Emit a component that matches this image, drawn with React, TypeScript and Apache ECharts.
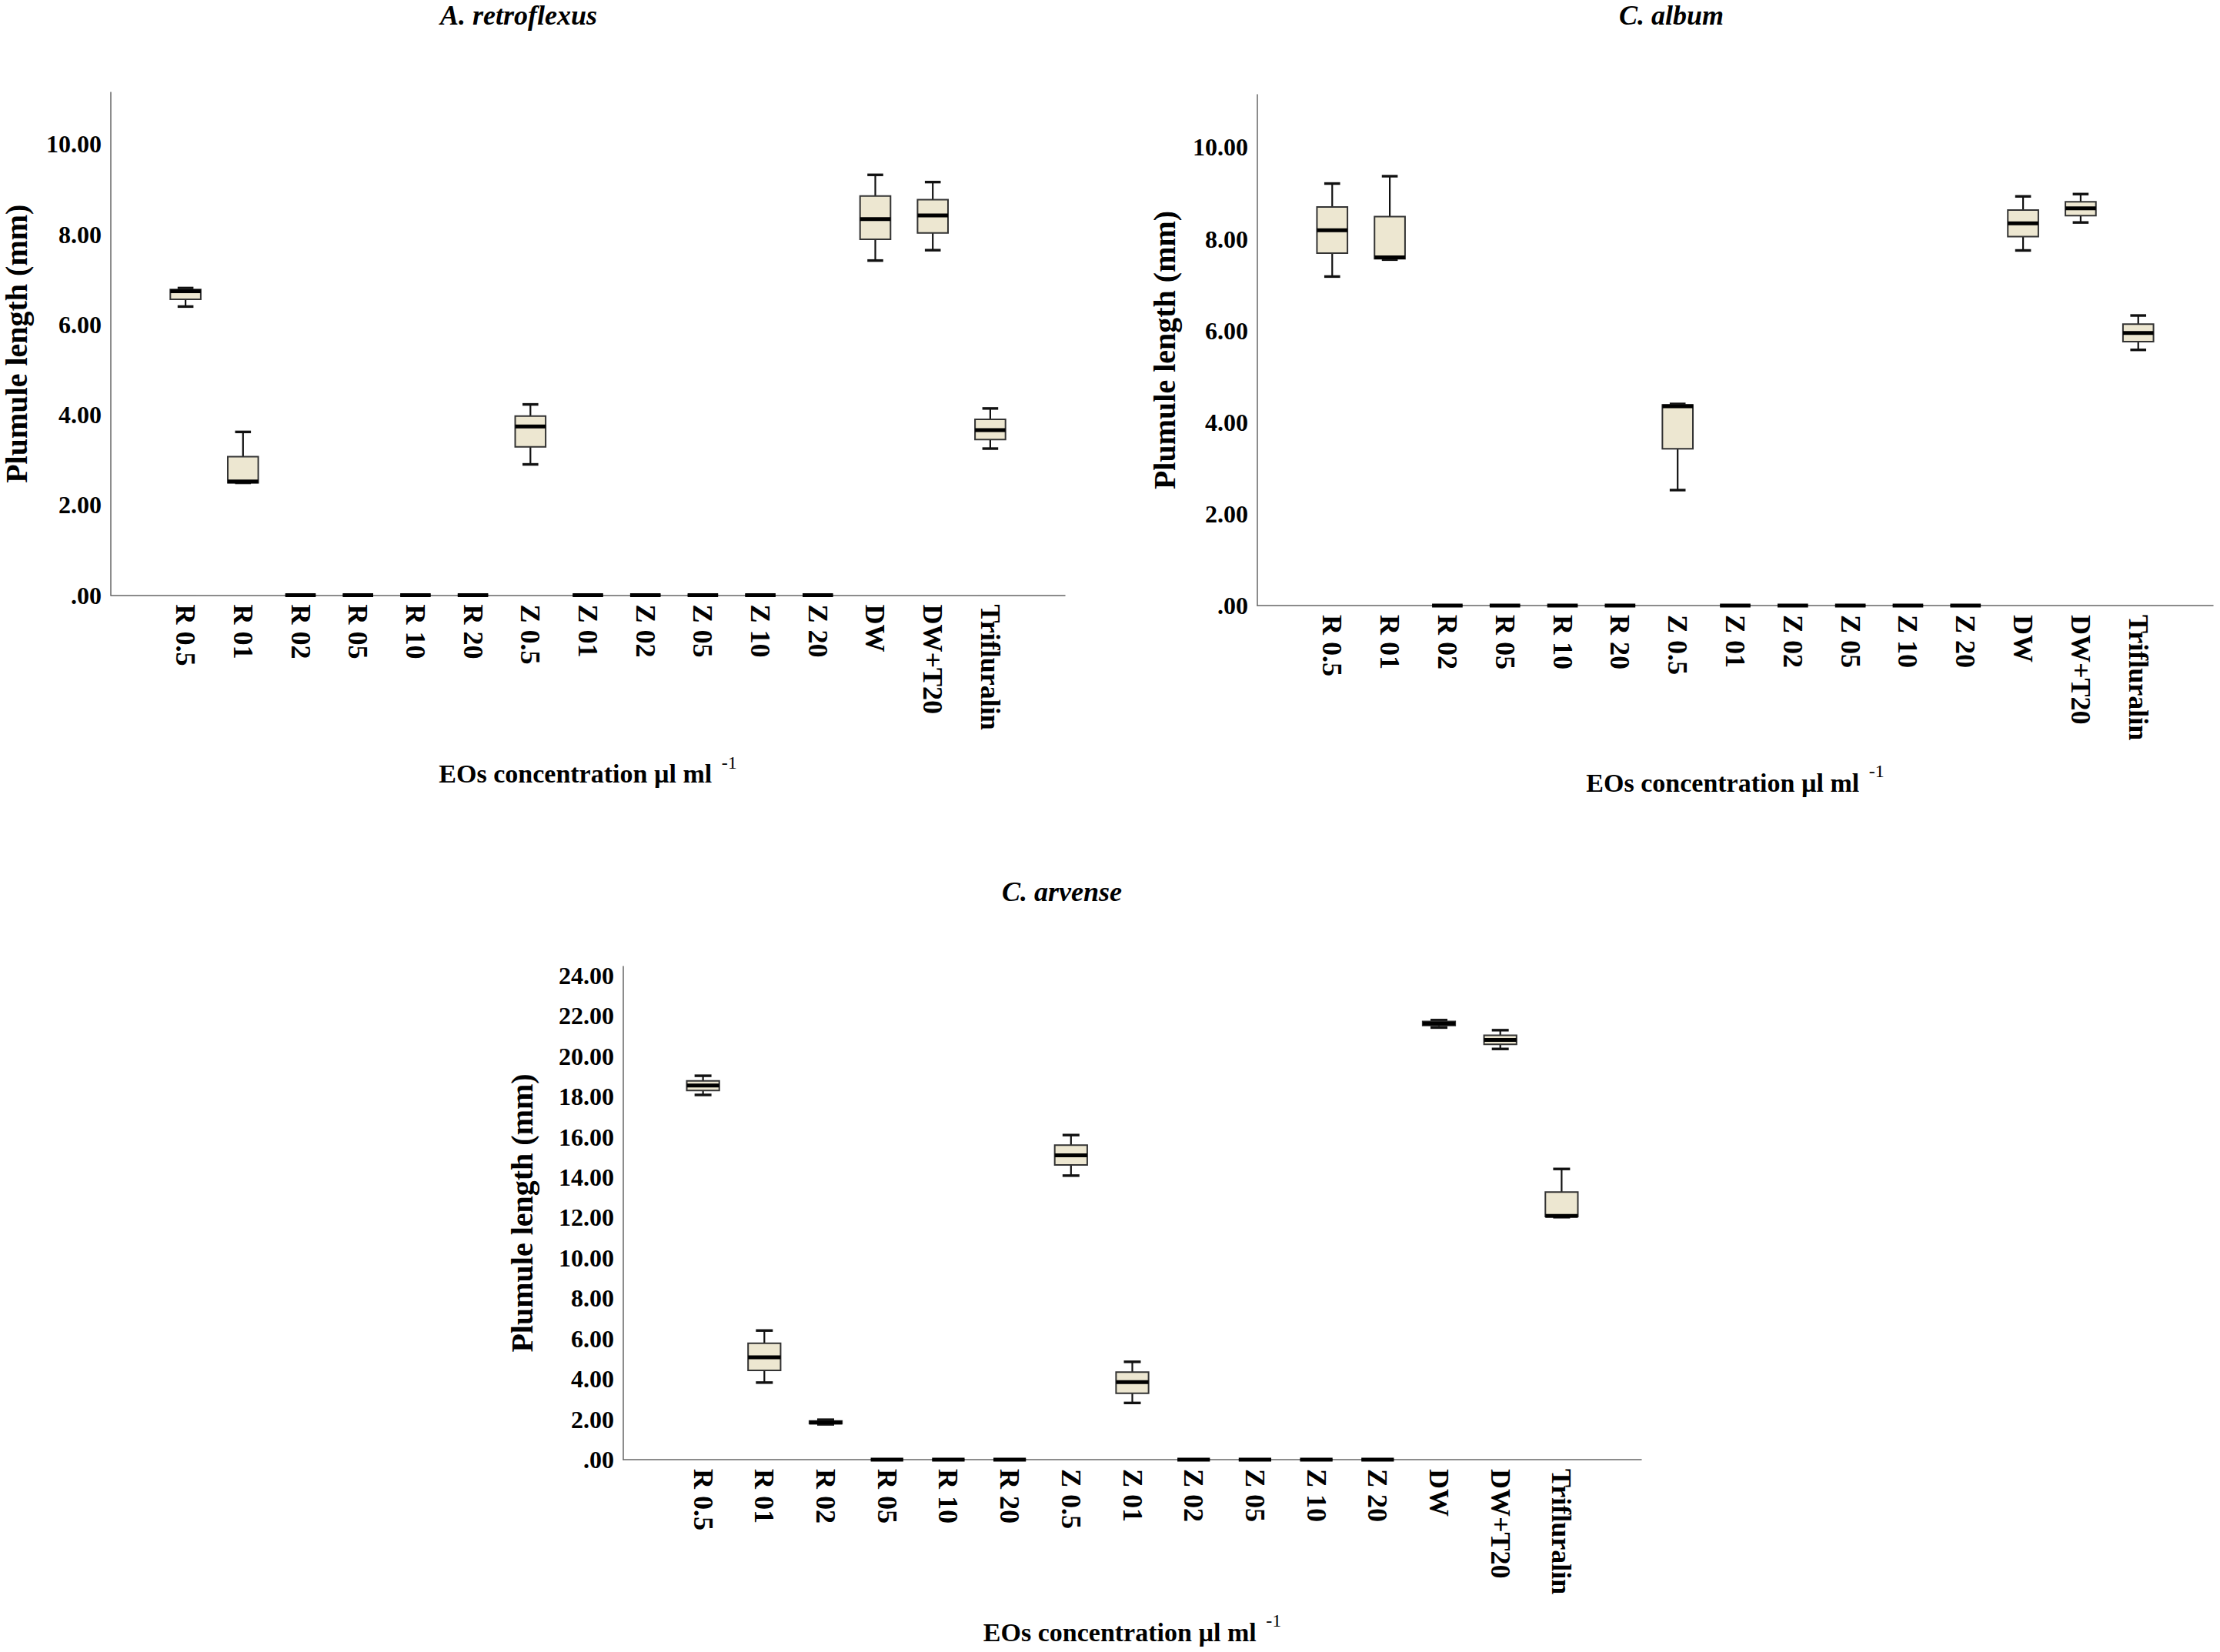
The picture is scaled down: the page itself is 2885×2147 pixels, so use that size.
import React, { useEffect, useRef } from 'react';
import * as echarts from 'echarts';

// Treatments on the x axis (same order in every panel)
const categories = [
  'R 0.5', 'R 01', 'R 02', 'R 05', 'R 10', 'R 20',
  'Z 0.5', 'Z 01', 'Z 02', 'Z 05', 'Z 10', 'Z 20',
  'DW', 'DW+T20', 'Trifluralin',
];

// Box statistics per treatment: [min, Q1, median, Q3, max] in mm
const retroflexusStats = [
  [6.40, 6.56, 6.74, 6.78, 6.81],
  [2.49, 2.49, 2.52, 3.07, 3.62],
  [0, 0, 0, 0, 0],
  [0, 0, 0, 0, 0],
  [0, 0, 0, 0, 0],
  [0, 0, 0, 0, 0],
  [2.90, 3.29, 3.74, 3.97, 4.23],
  [0, 0, 0, 0, 0],
  [0, 0, 0, 0, 0],
  [0, 0, 0, 0, 0],
  [0, 0, 0, 0, 0],
  [0, 0, 0, 0, 0],
  [7.42, 7.89, 8.34, 8.85, 9.32],
  [7.65, 8.03, 8.42, 8.77, 9.16],
  [3.25, 3.45, 3.66, 3.90, 4.14],
];

const albumStats = [
  [7.18, 7.69, 8.19, 8.70, 9.21],
  [7.55, 7.57, 7.60, 8.49, 9.37],
  [0, 0, 0, 0, 0],
  [0, 0, 0, 0, 0],
  [0, 0, 0, 0, 0],
  [0, 0, 0, 0, 0],
  [2.52, 3.42, 4.35, 4.38, 4.40],
  [0, 0, 0, 0, 0],
  [0, 0, 0, 0, 0],
  [0, 0, 0, 0, 0],
  [0, 0, 0, 0, 0],
  [0, 0, 0, 0, 0],
  [7.75, 8.05, 8.34, 8.63, 8.93],
  [8.36, 8.51, 8.67, 8.81, 8.98],
  [5.58, 5.76, 5.95, 6.14, 6.33],
];

const arvenseStats = [
  [18.08, 18.30, 18.55, 18.78, 19.03],
  [3.82, 4.42, 5.07, 5.77, 6.40],
  [1.75, 1.78, 1.84, 1.92, 1.98],
  [0, 0, 0, 0, 0],
  [0, 0, 0, 0, 0],
  [0, 0, 0, 0, 0],
  [14.08, 14.61, 15.09, 15.59, 16.09],
  [2.81, 3.29, 3.84, 4.34, 4.85],
  [0, 0, 0, 0, 0],
  [0, 0, 0, 0, 0],
  [0, 0, 0, 0, 0],
  [0, 0, 0, 0, 0],
  [21.42, 21.52, 21.62, 21.72, 21.79],
  [20.36, 20.59, 20.81, 21.04, 21.29],
  [12.02, 12.05, 12.08, 13.26, 14.41],
];

const speciesTitles = ['A. retroflexus', 'C. album', 'C. arvense'];
const yTicksShort = [0, 2, 4, 6, 8, 10];
const yTicksTall = [0, 2, 4, 6, 8, 10, 12, 14, 16, 18, 20, 22, 24];
const yAxisTitle = 'Plumule length (mm)';
const xAxisTitle = 'EOs concentration µl ml ';
const xAxisTitleSup = '-1';

const SERIF = '"Liberation Serif", "Times New Roman", Times, serif';

const panels = [
  { title: speciesTitles[0], stats: retroflexusStats, ticks: yTicksShort, yMax: 11.15,
    grid: { left: 142, top: 120, width: 1242, height: 653.5 }, titlePos: [674, 20], yNameGap: 123, xNameGap: 232 },
  { title: speciesTitles[1], stats: albumStats, ticks: yTicksShort, yMax: 11.15,
    grid: { left: 1634, top: 123, width: 1242, height: 664 }, titlePos: [2172, 20], yNameGap: 121, xNameGap: 230 },
  { title: speciesTitles[2], stats: arvenseStats, ticks: yTicksTall, yMax: 24.45,
    grid: { left: 810, top: 1256, width: 1323, height: 641 }, titlePos: [1380, 1159], yNameGap: 132, xNameGap: 224 },
];

const formatTick = (v: number) => (v === 0 ? '.00' : v.toFixed(2));

// Draws one box-and-whisker glyph: half-width whisker caps, thick median
const renderBox = (_params: any, api: any) => {
  const i = api.value(0);
  const lo = api.coord([i, api.value(1)]);
  const q1 = api.coord([i, api.value(2)]);
  const md = api.coord([i, api.value(3)]);
  const q3 = api.coord([i, api.value(4)]);
  const hi = api.coord([i, api.value(5)]);
  const step = api.size([1, 0])[0];
  const half = step * 0.265;
  const cap = half * 0.52;
  const cx = md[0];
  const whisker = { stroke: '#111', lineWidth: 2.2 };
  const capStyle = { stroke: '#111', lineWidth: 3.4 };
  return {
    type: 'group',
    children: [
      { type: 'line', shape: { x1: cx, y1: q1[1], x2: cx, y2: lo[1] }, style: whisker },
      { type: 'line', shape: { x1: cx, y1: q3[1], x2: cx, y2: hi[1] }, style: whisker },
      { type: 'line', shape: { x1: cx - cap, y1: lo[1], x2: cx + cap, y2: lo[1] }, style: capStyle },
      { type: 'line', shape: { x1: cx - cap, y1: hi[1], x2: cx + cap, y2: hi[1] }, style: capStyle },
      {
        type: 'rect',
        shape: { x: cx - half, y: q3[1], width: half * 2, height: q1[1] - q3[1] },
        style: { fill: '#EDE7D1', stroke: '#333', lineWidth: 2 },
      },
      { type: 'line', shape: { x1: cx - half, y1: md[1], x2: cx + half, y2: md[1] }, style: { stroke: '#000', lineWidth: 5 } },
    ],
  };
};

const axisLineStyle = { color: '#666', width: 1.5 };

function buildOption() {
  return {
    animation: false,
    backgroundColor: '#ffffff',
    grid: panels.map((p) => ({ ...p.grid, containLabel: false })),
    xAxis: panels.map((p, k) => ({
      gridIndex: k,
      type: 'value',
      min: -1.3,
      max: 15.3,
      axisLine: { show: true, onZero: false, lineStyle: axisLineStyle },
      axisTick: { show: false },
      splitLine: { show: false },
      axisLabel: {
        customValues: categories.map((_, i) => i),
        formatter: (v: number) => categories[Math.round(v)] ?? '',
        rotate: -90,
        margin: 12,
        color: '#000',
        fontFamily: SERIF,
        fontWeight: 'bold',
        fontSize: 36,
      },
      name: `{t|${xAxisTitle}}{s|${xAxisTitleSup}}`,
      nameLocation: 'middle',
      nameGap: p.xNameGap,
      nameTextStyle: {
        verticalAlign: 'middle',
        rich: {
          t: { fontFamily: SERIF, fontWeight: 'bold', fontSize: 34, color: '#000', lineHeight: 54 },
          s: { fontFamily: SERIF, fontSize: 24, color: '#000', verticalAlign: 'top', lineHeight: 24, padding: [0, 0, 0, 4] },
        },
      },
    })),
    yAxis: panels.map((p, k) => ({
      gridIndex: k,
      type: 'value',
      min: 0,
      max: p.yMax,
      axisLine: { show: true, onZero: false, lineStyle: axisLineStyle },
      axisTick: { show: false },
      splitLine: { show: false },
      axisLabel: {
        customValues: p.ticks,
        formatter: formatTick,
        margin: 12,
        color: '#000',
        fontFamily: SERIF,
        fontWeight: 'bold',
        fontSize: 32,
      },
      name: yAxisTitle,
      nameLocation: 'middle',
      nameRotate: 90,
      nameGap: p.yNameGap,
      nameTextStyle: {
        fontFamily: SERIF,
        fontWeight: 'bold',
        fontSize: 40,
        color: '#000',
        verticalAlign: 'middle',
      },
    })),
    series: panels.map((p, k) => ({
      type: 'custom',
      name: p.title,
      xAxisIndex: k,
      yAxisIndex: k,
      renderItem: renderBox,
      encode: { x: 0, y: [1, 2, 3, 4, 5] },
      data: p.stats.map((s, i) => [i, ...s]),
      clip: false,
    })),
    graphic: panels.map((p) => ({
      type: 'text',
      x: p.titlePos[0],
      y: p.titlePos[1],
      style: {
        text: p.title,
        fontFamily: SERIF,
        fontWeight: 'bold',
        fontStyle: 'italic',
        fontSize: 36,
        fill: '#000',
        align: 'center',
        verticalAlign: 'middle',
      },
    })),
  };
}

export default function App() {
  const ref = useRef<HTMLDivElement>(null);
  useEffect(() => {
    if (!ref.current) return;
    const chart = echarts.init(ref.current, undefined, { renderer: 'svg' });
    chart.setOption(buildOption() as any);
    return () => chart.dispose();
  }, []);
  return (
    <div
      ref={ref}
      style={{ position: 'absolute', left: 0, top: 0, width: 2885, height: 2147, background: '#fff' }}
    />
  );
}
